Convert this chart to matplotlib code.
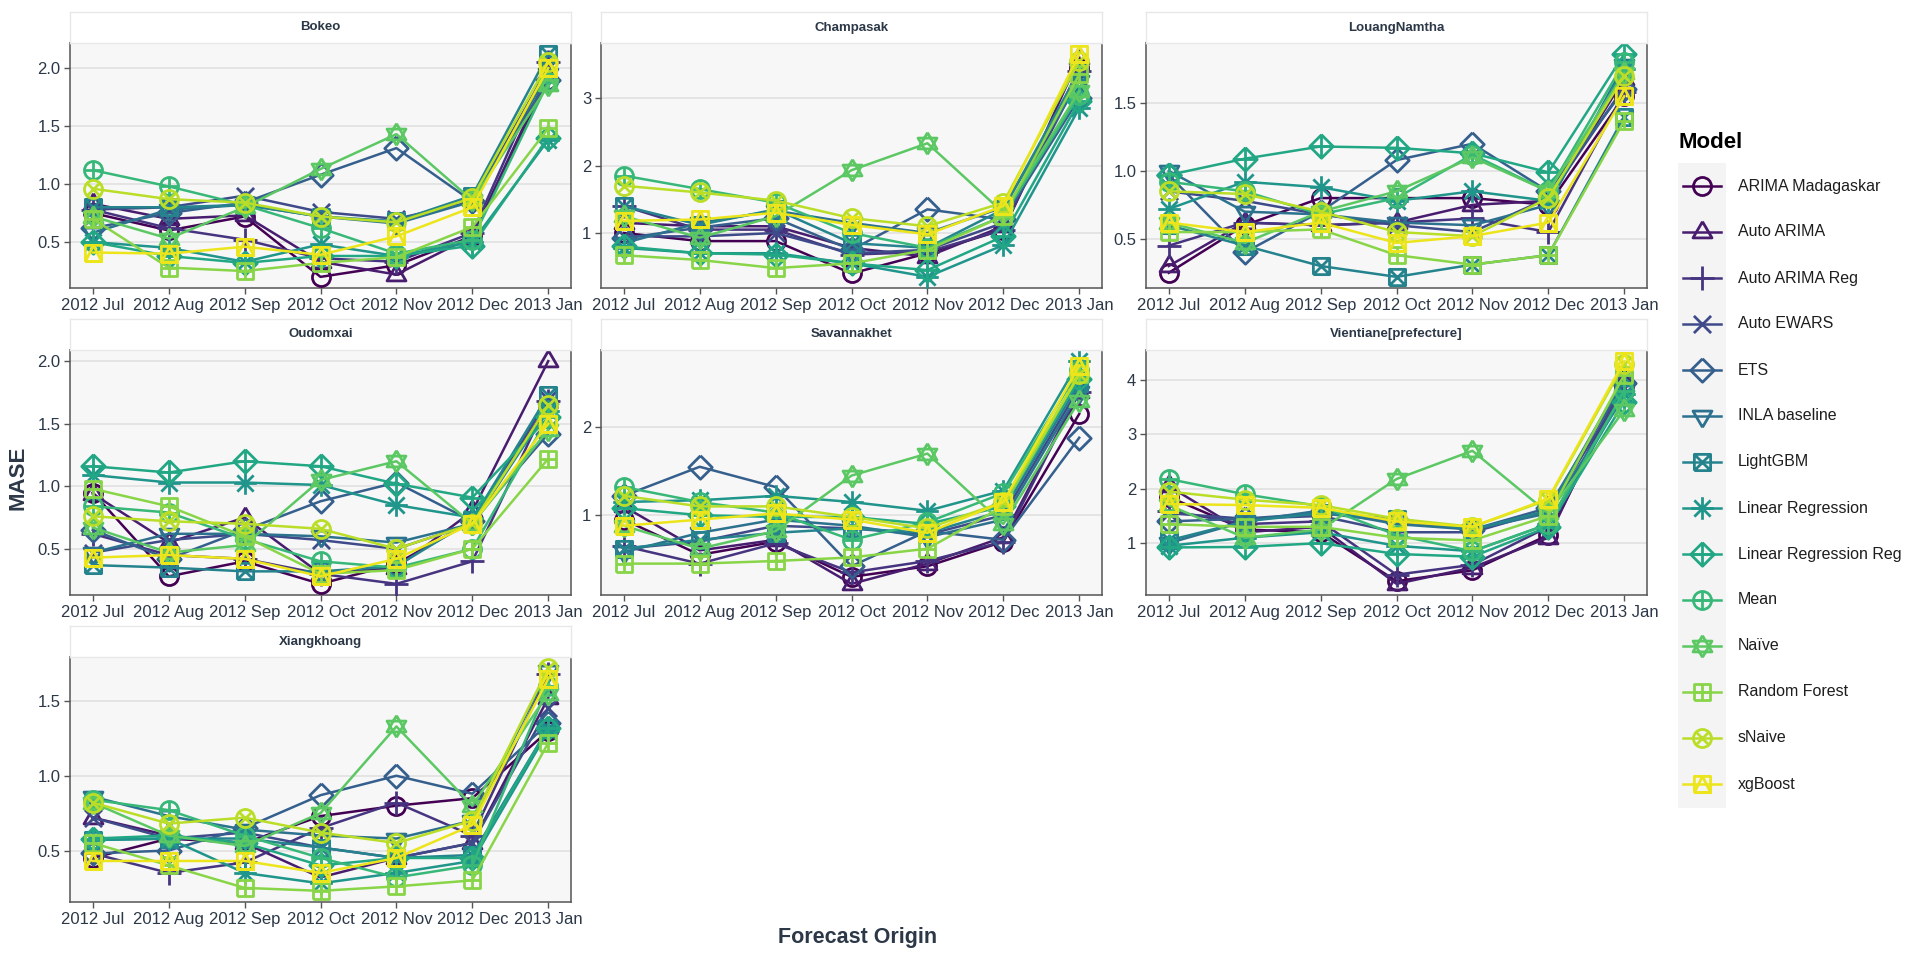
import numpy as np
import matplotlib
matplotlib.use("Agg")
import matplotlib.pyplot as plt
from matplotlib.path import Path
from matplotlib.lines import Line2D
from matplotlib.patches import Rectangle
from matplotlib.ticker import MultipleLocator, FormatStrFormatter

plt.rcParams['font.family'] = ['Liberation Sans', 'DejaVu Sans']

# ---------------- data ----------------
months = ["2012 Jul", "2012 Aug", "2012 Sep", "2012 Oct", "2012 Nov", "2012 Dec", "2013 Jan"]
models = ["ARIMA Madagaskar", "Auto ARIMA", "Auto ARIMA Reg", "Auto EWARS", "ETS",
          "INLA baseline", "LightGBM", "Linear Regression", "Linear Regression Reg",
          "Mean", "Naïve", "Random Forest", "sNaive", "xgBoost"]
regions = ["Bokeo", "Champasak", "LouangNamtha", "Oudomxai", "Savannakhet",
           "Vientiane[prefecture]", "Xiangkhoang"]
ytick_step = [0.5, 1, 0.5, 0.5, 1, 1, 0.5]

bokeo = {
    "ARIMA Madagaskar":      [0.75, 0.60, 0.72, 0.20, 0.30, 0.55, 1.90],
    "Auto ARIMA":            [0.83, 0.70, 0.73, 0.33, 0.22, 0.55, 1.95],
    "Auto ARIMA Reg":        [0.78, 0.62, 0.52, 0.36, 0.33, 0.58, 2.05],
    "Auto EWARS":            [0.78, 0.80, 0.90, 0.76, 0.70, 0.85, 2.00],
    "ETS":                   [0.62, 0.75, 0.84, 1.08, 1.31, 0.85, 1.90],
    "INLA baseline":         [0.58, 0.78, 0.82, 0.72, 0.66, 0.85, 1.95],
    "LightGBM":              [0.80, 0.80, 0.82, 0.72, 0.68, 0.90, 2.12],
    "Linear Regression":     [0.50, 0.45, 0.33, 0.48, 0.38, 0.50, 1.38],
    "Linear Regression Reg": [0.50, 0.38, 0.32, 0.38, 0.38, 0.47, 1.40],
    "Mean":                  [1.12, 0.98, 0.82, 0.62, 0.40, 0.52, 1.88],
    "Naïve":                 [0.72, 0.53, 0.80, 1.13, 1.43, 0.86, 1.85],
    "Random Forest":         [0.70, 0.28, 0.25, 0.32, 0.37, 0.63, 1.48],
    "sNaive":                [0.96, 0.87, 0.84, 0.72, 0.67, 0.88, 2.05],
    "xgBoost":               [0.41, 0.40, 0.46, 0.39, 0.55, 0.80, 2.00],
}
champasak = {
    "ARIMA Madagaskar":      [1.00, 0.88, 0.88, 0.40, 0.70, 1.05, 3.45],
    "Auto ARIMA":            [1.15, 1.10, 1.10, 0.78, 0.65, 1.10, 3.60],
    "Auto ARIMA Reg":        [1.40, 1.05, 1.05, 0.68, 0.72, 1.05, 3.40],
    "Auto EWARS":            [0.95, 0.95, 1.00, 0.70, 0.75, 1.15, 3.30],
    "ETS":                   [0.92, 1.08, 1.22, 0.75, 1.35, 1.20, 3.00],
    "INLA baseline":         [0.85, 1.15, 1.33, 1.15, 1.00, 1.38, 3.25],
    "LightGBM":              [1.40, 1.12, 1.35, 0.85, 0.78, 1.35, 3.40],
    "Linear Regression":     [0.78, 0.70, 0.70, 0.55, 0.35, 0.82, 2.85],
    "Linear Regression Reg": [0.80, 0.70, 0.68, 0.55, 0.45, 0.95, 2.95],
    "Mean":                  [1.85, 1.65, 1.45, 1.00, 0.78, 1.25, 3.05],
    "Naïve":                 [1.25, 0.93, 1.25, 1.93, 2.33, 1.30, 3.10],
    "Random Forest":         [0.67, 0.60, 0.48, 0.55, 0.75, 1.25, 3.35],
    "sNaive":                [1.70, 1.60, 1.48, 1.22, 1.10, 1.45, 3.55],
    "xgBoost":               [1.18, 1.20, 1.30, 1.12, 0.98, 1.40, 3.65],
}
louangnamtha = {
    "ARIMA Madagaskar":      [0.25, 0.60, 0.80, 0.80, 0.80, 0.75, 1.55],
    "Auto ARIMA":            [0.30, 0.62, 0.60, 0.62, 0.75, 0.78, 1.68],
    "Auto ARIMA Reg":        [0.45, 0.62, 0.60, 0.62, 0.65, 0.55, 1.58],
    "Auto EWARS":            [0.85, 0.78, 0.68, 0.60, 0.55, 0.80, 1.62],
    "ETS":                   [0.97, 0.40, 0.70, 1.08, 1.20, 0.85, 1.60],
    "INLA baseline":         [1.00, 0.70, 0.68, 0.62, 0.60, 0.75, 1.78],
    "LightGBM":              [0.60, 0.45, 0.30, 0.22, 0.31, 0.38, 1.40],
    "Linear Regression":     [0.72, 0.92, 0.88, 0.78, 0.85, 0.78, 1.75],
    "Linear Regression Reg": [0.97, 1.09, 1.18, 1.17, 1.13, 0.99, 1.86],
    "Mean":                  [0.92, 0.85, 0.68, 0.80, 1.12, 0.85, 1.80],
    "Naïve":                 [0.62, 0.47, 0.70, 0.85, 1.10, 0.85, 1.72],
    "Random Forest":         [0.55, 0.55, 0.57, 0.38, 0.31, 0.38, 1.37],
    "sNaive":                [0.85, 0.83, 0.70, 0.55, 0.52, 0.80, 1.70],
    "xgBoost":               [0.62, 0.55, 0.62, 0.47, 0.52, 0.62, 1.55],
}
oudomxai = {
    "ARIMA Madagaskar":      [0.95, 0.28, 0.40, 0.22, 0.38, 0.72, 1.65],
    "Auto ARIMA":            [0.94, 0.55, 0.75, 0.30, 0.35, 0.80, 2.00],
    "Auto ARIMA Reg":        [0.62, 0.45, 0.42, 0.30, 0.22, 0.40, 1.68],
    "Auto EWARS":            [0.47, 0.57, 0.62, 0.57, 0.50, 0.70, 1.70],
    "ETS":                   [0.65, 0.42, 0.65, 0.88, 1.03, 0.72, 1.42],
    "INLA baseline":         [0.47, 0.62, 0.62, 0.60, 0.55, 0.70, 1.62],
    "LightGBM":              [0.37, 0.35, 0.32, 0.32, 0.36, 0.73, 1.73],
    "Linear Regression":     [1.09, 1.03, 1.03, 1.01, 0.85, 0.75, 1.60],
    "Linear Regression Reg": [1.16, 1.11, 1.20, 1.16, 1.02, 0.91, 1.55],
    "Mean":                  [0.84, 0.79, 0.58, 0.40, 0.35, 0.50, 1.55],
    "Naïve":                 [0.67, 0.47, 0.53, 1.05, 1.20, 0.70, 1.45],
    "Random Forest":         [0.98, 0.84, 0.60, 0.30, 0.33, 0.50, 1.22],
    "sNaive":                [0.76, 0.72, 0.70, 0.66, 0.50, 0.70, 1.65],
    "xgBoost":               [0.43, 0.45, 0.42, 0.28, 0.42, 0.70, 1.50],
}
savannakhet = {
    "ARIMA Madagaskar":      [0.95, 0.55, 0.70, 0.30, 0.42, 0.70, 2.15],
    "Auto ARIMA":            [1.10, 0.60, 0.72, 0.22, 0.45, 0.75, 2.40],
    "Auto ARIMA Reg":        [0.65, 0.45, 0.68, 0.35, 0.48, 0.70, 2.40],
    "Auto EWARS":            [0.62, 0.70, 0.88, 0.85, 0.78, 1.00, 2.45],
    "ETS":                   [1.22, 1.55, 1.32, 0.42, 0.82, 0.72, 1.88],
    "INLA baseline":         [0.58, 0.80, 0.95, 0.88, 0.75, 0.95, 2.40],
    "LightGBM":              [0.62, 0.72, 0.80, 0.85, 0.80, 1.05, 2.50],
    "Linear Regression":     [1.15, 1.17, 1.22, 1.15, 1.05, 1.28, 2.75],
    "Linear Regression Reg": [1.08, 1.00, 0.98, 0.98, 0.90, 1.10, 2.55],
    "Mean":                  [1.32, 1.15, 1.03, 0.72, 0.92, 1.25, 2.65],
    "Naïve":                 [0.88, 0.62, 0.82, 1.45, 1.70, 0.90, 2.30],
    "Random Forest":         [0.45, 0.45, 0.48, 0.52, 0.62, 1.10, 2.60],
    "sNaive":                [1.22, 1.10, 1.10, 0.98, 0.85, 1.15, 2.60],
    "xgBoost":               [0.88, 0.95, 1.02, 0.95, 0.80, 1.15, 2.70],
}
vientiane = {
    "ARIMA Madagaskar":      [1.85, 1.25, 1.20, 0.30, 0.50, 1.15, 3.90],
    "Auto ARIMA":            [2.05, 1.20, 1.30, 0.25, 0.55, 1.10, 4.00],
    "Auto ARIMA Reg":        [1.60, 1.35, 1.40, 0.42, 0.60, 1.30, 3.95],
    "Auto EWARS":            [1.55, 1.45, 1.50, 1.20, 1.20, 1.60, 3.85],
    "ETS":                   [1.40, 1.45, 1.55, 1.40, 1.25, 1.65, 3.95],
    "INLA baseline":         [1.00, 1.40, 1.60, 1.35, 1.25, 1.55, 3.70],
    "LightGBM":              [1.05, 1.40, 1.55, 1.45, 1.25, 1.60, 4.05],
    "Linear Regression":     [0.95, 1.10, 1.20, 0.95, 0.85, 1.35, 3.75],
    "Linear Regression Reg": [0.92, 0.93, 1.00, 0.80, 0.75, 1.30, 3.60],
    "Mean":                  [2.18, 1.90, 1.68, 1.15, 0.85, 1.35, 3.80],
    "Naïve":                 [1.70, 1.10, 1.25, 2.18, 2.70, 1.55, 3.45],
    "Random Forest":         [1.35, 1.30, 1.30, 1.10, 1.05, 1.50, 4.10],
    "sNaive":                [1.95, 1.80, 1.70, 1.45, 1.30, 1.80, 4.30],
    "xgBoost":               [1.72, 1.70, 1.65, 1.40, 1.30, 1.82, 4.35],
}
xiangkhoang = {
    "ARIMA Madagaskar":      [0.45, 0.58, 0.55, 0.73, 0.80, 0.85, 1.30],
    "Auto ARIMA":            [0.72, 0.60, 0.55, 0.32, 0.45, 0.55, 1.52],
    "Auto ARIMA Reg":        [0.48, 0.35, 0.42, 0.65, 0.82, 0.60, 1.68],
    "Auto EWARS":            [0.72, 0.58, 0.62, 0.52, 0.45, 0.55, 1.45],
    "ETS":                   [0.48, 0.50, 0.65, 0.87, 1.00, 0.88, 1.35],
    "INLA baseline":         [0.86, 0.73, 0.64, 0.60, 0.58, 0.70, 1.70],
    "LightGBM":              [0.57, 0.58, 0.58, 0.52, 0.45, 0.47, 1.32],
    "Linear Regression":     [0.57, 0.58, 0.35, 0.28, 0.35, 0.43, 1.30],
    "Linear Regression Reg": [0.58, 0.60, 0.55, 0.40, 0.45, 0.45, 1.32],
    "Mean":                  [0.84, 0.77, 0.60, 0.45, 0.32, 0.40, 1.60],
    "Naïve":                 [0.82, 0.60, 0.53, 0.75, 1.33, 0.80, 1.55],
    "Random Forest":         [0.55, 0.40, 0.25, 0.23, 0.26, 0.30, 1.22],
    "sNaive":                [0.82, 0.68, 0.72, 0.62, 0.55, 0.70, 1.72],
    "xgBoost":               [0.43, 0.43, 0.43, 0.35, 0.45, 0.67, 1.65],
}
region_data = [bokeo, champasak, louangnamtha, oudomxai, savannakhet, vientiane, xiangkhoang]

# ---------------- markers (ggplot shapes 1..14) ----------------
def seg(p, q):
    return Path([p, q], [Path.MOVETO, Path.LINETO])

def poly(pts):
    pts = list(pts) + [pts[0]]
    return Path(pts, [Path.MOVETO] + [Path.LINETO] * (len(pts) - 1))

def circle(r=1.0):
    c = Path.unit_circle()
    return Path(c.vertices * r, c.codes)

def plus(a):
    return [seg((-a, 0), (a, 0)), seg((0, -a), (0, a))]

def cross(a):
    return [seg((-a, -a), (a, a)), seg((-a, a), (a, -a))]

def comp(parts):
    return Path.make_compound_path(*parts)

sq = 0.9
tri_up = poly([(0, 1.2), (-1.05, -0.6), (1.05, -0.6)])
tri_dn = poly([(0, -1.2), (-1.05, 0.6), (1.05, 0.6)])
square = poly([(-sq, -sq), (sq, -sq), (sq, sq), (-sq, sq)])
diamond = poly([(0, 1.3), (1.3, 0), (0, -1.3), (-1.3, 0)])

shape_paths = [
    circle(),                                   # 1
    tri_up,                                     # 2
    comp(plus(1.35)),                           # 3
    comp(cross(0.95)),                          # 4
    diamond,                                    # 5
    tri_dn,                                     # 6
    comp([square] + cross(sq)),                 # 7
    comp(plus(1.25) + cross(0.9)),              # 8
    comp([diamond] + plus(1.3)),                # 9
    comp([circle()] + plus(1.0)),               # 10
    comp([tri_up, tri_dn]),                     # 11
    comp([square] + plus(sq)),                  # 12
    comp([circle()] + cross(0.707)),            # 13
    comp([square, poly([(-sq, -sq), (sq, -sq), (0, sq)])]),  # 14
]
base_ms = 13.0
shape_ms = [base_ms * np.max(np.abs(p.vertices)) for p in shape_paths]

cmap = plt.get_cmap('viridis')
colors = [cmap(v) for v in np.linspace(0, 0.97, len(models))]

# ---------------- figure layout ----------------
W, H = 1920, 960
fig = plt.figure(figsize=(W / 100, H / 100), dpi=100)
fig.patch.set_facecolor('white')

col_left = [70, 601, 1146]
panel_w = 501
row_top = [43, 350, 657]
panel_h = 245
strip_h = 31

txt_col = '#2c3847'
lw = 1.8
mew = 2.0

for k, (reg, dat) in enumerate(zip(regions, region_data)):
    r, c = divmod(k, 3)
    x0 = col_left[c]
    y0 = row_top[r]
    ax = fig.add_axes([x0 / W, 1 - (y0 + panel_h) / H, panel_w / W, panel_h / H])
    ax.set_facecolor('#f7f7f7')
    x = np.arange(len(months))
    for i, m in enumerate(models):
        ax.plot(x, dat[m], color=colors[i], lw=lw, marker=shape_paths[i],
                markersize=shape_ms[i], markerfacecolor='none',
                markeredgecolor=colors[i], markeredgewidth=mew, zorder=3)
    ax.set_xlim(-0.3, 6.3)
    ax.margins(y=0.05)
    ax.set_xticks(x)
    ax.set_xticklabels(months)
    step = ytick_step[k]
    ax.yaxis.set_major_locator(MultipleLocator(step))
    ax.yaxis.set_major_formatter(FormatStrFormatter('%.1f' if step < 1 else '%d'))
    ax.grid(axis='y', color='#e3e3e3', lw=1.3, zorder=0)
    ax.set_axisbelow(True)
    for s in ax.spines.values():
        s.set_color('#555555')
        s.set_linewidth(1.1)
    ax.tick_params(axis='both', labelsize=12, colors='#555555', labelcolor=txt_col,
                   length=4, width=1.0, pad=3)
    # strip
    sax = fig.add_axes([x0 / W, 1 - y0 / H, panel_w / W, strip_h / H])
    sax.set_xticks([]); sax.set_yticks([])
    sax.set_facecolor('white')
    for s in sax.spines.values():
        s.set_color('#e8e8e8')
        s.set_linewidth(1.0)
    sax.text(0.5, 0.5, reg, ha='center', va='center', fontsize=9.5,
             fontweight='bold', color=txt_col, transform=sax.transAxes)

# axis titles
fig.text(18 / W, 1 - 478 / H, 'MASE', rotation=90, ha='center', va='center',
         fontsize=16, fontweight='bold', color=txt_col)
fig.text(858 / W, 1 - 937 / H, 'Forecast Origin', ha='center', va='center',
         fontsize=15.5, fontweight='bold', color=txt_col)

# legend
fig.text(1678 / W, 1 - 143 / H, 'Model', ha='left', va='center', fontsize=16,
         fontweight='bold', color='black')
fig.add_artist(Rectangle((1678 / W, 1 - 808 / H), 48 / W, 645 / H,
                         transform=fig.transFigure, facecolor='#f4f4f4',
                         edgecolor='none', zorder=0))
for i, m in enumerate(models):
    yy = 1 - (186 + 46 * i) / H
    ln = Line2D([1683 / W, 1702 / W, 1721 / W], [yy, yy, yy], transform=fig.transFigure,
                color=colors[i], lw=lw, marker=shape_paths[i], markevery=[1],
                markersize=shape_ms[i], markerfacecolor='none',
                markeredgecolor=colors[i], markeredgewidth=mew, zorder=2)
    fig.add_artist(ln)
    fig.text(1738 / W, yy, m, ha='left', va='center', fontsize=11.5, color='#1e1e1e')

fig.savefig('out.png', dpi=100)
